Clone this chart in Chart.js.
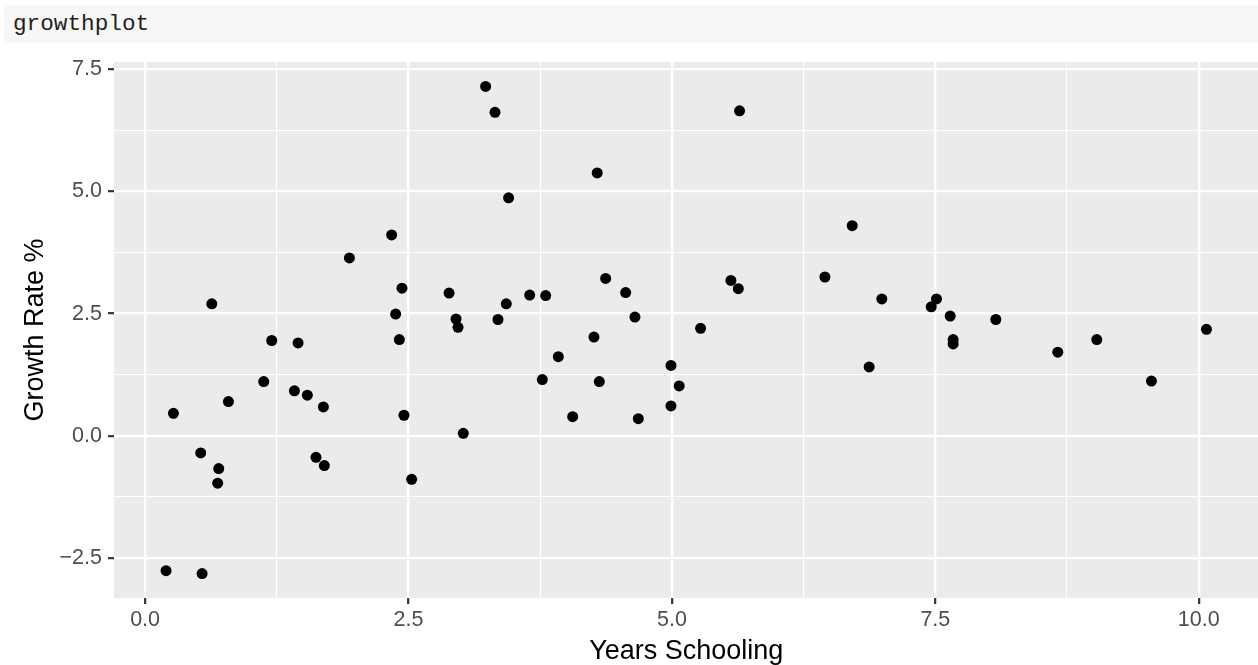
<!DOCTYPE html>
<html lang="en">
<head>
    <meta charset="UTF-8">
    <title>growthplot</title>
    <style>
        body { margin: 0; background: #fff; overflow: hidden; }
        .codeBox {
            position: absolute; left: 4px; top: 5px; width: 1254px; height: 38px;
            background: #f7f7f7; box-sizing: border-box; padding-left: 9px;
            font-family: "Liberation Mono", monospace; font-size: 22.7px; line-height: 38px; color: #1f1f1f;
        }
        .plotWrap { position: absolute; left: 0; top: 0; width: 1258px; height: 665px; overflow: hidden; }
        #growthChart { position: absolute; left: 0; top: 0; }
    </style>
</head>
<body>
    <div class="codeBox">growthplot</div>
    <div class="plotWrap">
        <canvas id="growthChart" width="1264" height="665"></canvas>
    </div>
<script src="https://cdn.jsdelivr.net/npm/chart.js"></script>
<script>
    // values
    const yearsSchooling = [0.199, 0.541, 0.269, 0.528, 0.633, 0.689, 0.699, 0.791, 1.126, 1.202,
        1.417, 1.452, 1.540, 1.622, 1.692, 1.701, 1.939, 2.340, 2.378, 2.413,
        2.438, 2.457, 2.530, 2.885, 2.951, 2.970, 3.020, 3.232, 3.321, 3.349,
        3.428, 3.450, 3.650, 3.770, 3.802, 3.922, 4.058, 4.260, 4.291, 4.311,
        4.371, 4.561, 4.649, 4.681, 4.991, 4.991, 5.069, 5.272, 5.560, 5.630,
        5.642, 6.452, 6.711, 6.872, 6.992, 7.461, 7.511, 7.641, 7.669, 7.669,
        8.074, 8.662, 9.032, 9.551, 10.073];
    const growthRate = [-2.76, -2.82, 0.46, -0.35, 2.70, -0.97, -0.67, 0.70, 1.11, 1.95,
        0.92, 1.90, 0.83, -0.44, 0.59, -0.61, 3.64, 4.11, 2.49, 1.97,
        3.02, 0.42, -0.89, 2.92, 2.39, 2.22, 0.05, 7.15, 6.62, 2.38,
        2.70, 4.87, 2.88, 1.15, 2.87, 1.62, 0.39, 2.02, 5.38, 1.11,
        3.22, 2.93, 2.43, 0.35, 1.44, 0.61, 1.02, 2.20, 3.18, 3.01,
        6.65, 3.25, 4.30, 1.41, 2.80, 2.64, 2.80, 2.45, 1.97, 1.88,
        2.38, 1.71, 1.97, 1.12, 2.18];

    const xTicks = [0, 2.5, 5, 7.5, 10];
    const xTickLabels = ['0.0', '2.5', '5.0', '7.5', '10.0'];
    const xMinor = [1.25, 3.75, 6.25, 8.75];
    const yTicks = [-2.5, 0, 2.5, 5, 7.5];
    const yTickLabels = ['\u22122.5', '0.0', '2.5', '5.0', '7.5'];
    const yMinor = [-1.25, 1.25, 3.75, 6.25];

    Chart.defaults.font.family = '"Liberation Sans", Arial, sans-serif';

    const points = yearsSchooling.map((x, i) => ({ x: x, y: growthRate[i] }));

    const panelBg = {
        id: 'panelBg',
        beforeDraw(chart) {
            const a = chart.chartArea;
            const c = chart.ctx;
            c.save();
            c.fillStyle = '#ebebeb';
            c.fillRect(a.left, a.top, a.right - a.left, a.bottom - a.top);
            c.restore();
        }
    };

    function axisOpts(majors, labels, minors, title) {
        const isMajor = ctx => majors.indexOf(ctx.tick.value) >= 0;
        return {
            type: 'linear',
            afterBuildTicks: scale => {
                scale.ticks = majors.concat(minors).sort((a, b) => a - b).map(v => ({ value: v }));
            },
            ticks: {
                autoSkip: false,
                maxRotation: 0,
                color: '#4d4d4d',
                font: { size: 21.5 },
                padding: 6,
                callback: value => {
                    const i = majors.indexOf(value);
                    return i >= 0 ? labels[i] : '';
                }
            },
            grid: {
                color: '#ffffff',
                lineWidth: ctx => isMajor(ctx) ? 2.3 : 1.1,
                tickColor: ctx => isMajor(ctx) ? '#333333' : 'rgba(0,0,0,0)',
                tickWidth: 2.2,
                tickLength: 6
            },
            border: { display: false },
            title: {
                display: true,
                text: title,
                color: '#000000',
                font: { size: 27 },
                padding: { top: 2, bottom: 2 }
            }
        };
    }

    const xAxis = axisOpts(xTicks, xTickLabels, xMinor, 'Years Schooling');
    xAxis.min = -0.295;
    xAxis.max = 10.567;
    xAxis.ticks.padding = 3;
    xAxis.title.font.lineHeight = 1;
    xAxis.title.padding = { top: 0, bottom: 0 };
    xAxis.afterFit = scale => { scale.height = 67; };

    const yAxis = axisOpts(yTicks, yTickLabels, yMinor, 'Growth Rate %');
    yAxis.min = -3.32;
    yAxis.max = 7.65;
    yAxis.title.padding = { top: 19, bottom: 0 };
    yAxis.afterFit = scale => { scale.width = 114; };

    const ctx = document.getElementById('growthChart').getContext('2d');
    const growthChart = new Chart(ctx, {
        type: 'scatter',
        data: {
            datasets: [{
                data: points,
                backgroundColor: '#000000',
                borderWidth: 0,
                pointRadius: 5.5,
                pointHoverRadius: 5.5
            }]
        },
        options: {
            responsive: false,
            animation: false,
            layout: { padding: { top: 62, left: 0, right: 0, bottom: 0 } },
            plugins: { legend: { display: false }, tooltip: { enabled: false } },
            scales: { x: xAxis, y: yAxis }
        },
        plugins: [panelBg]
    });
</script>
</body>
</html>
